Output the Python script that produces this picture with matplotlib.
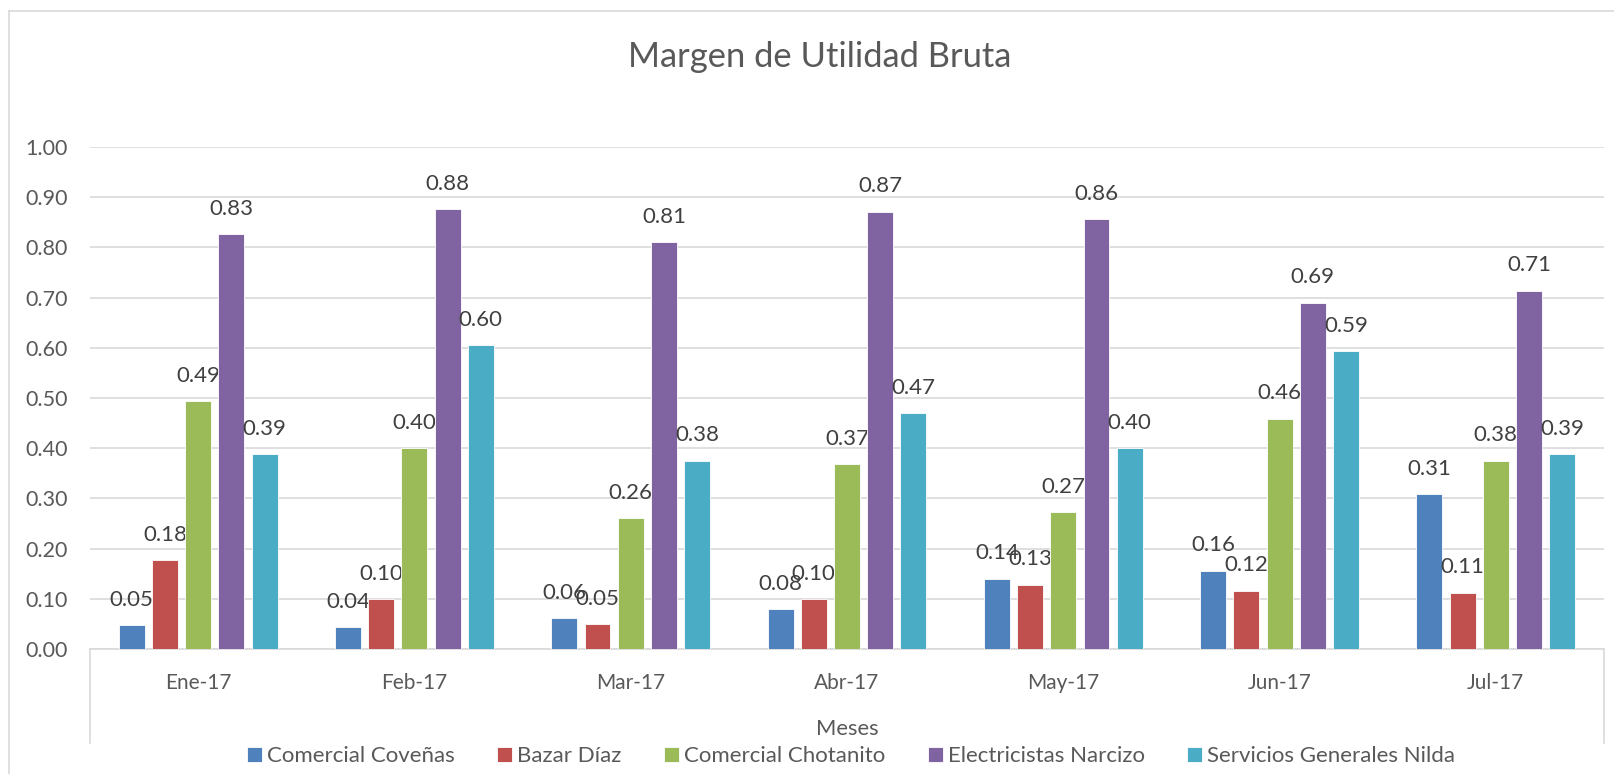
import numpy as np
import matplotlib
matplotlib.use("Agg")
import matplotlib.pyplot as plt
from matplotlib.lines import Line2D

plt.rcParams['font.family'] = ['Lato', 'DejaVu Sans']

meses = ['Ene-17', 'Feb-17', 'Mar-17', 'Abr-17', 'May-17', 'Jun-17', 'Jul-17']
coveñas = [0.047, 0.043, 0.062, 0.080, 0.140, 0.156, 0.308]
bazar = [0.177, 0.099, 0.050, 0.099, 0.128, 0.116, 0.112]
chotanito = [0.494, 0.400, 0.261, 0.368, 0.272, 0.459, 0.375]
narcizo = [0.826, 0.876, 0.811, 0.871, 0.857, 0.690, 0.714]
nilda = [0.388, 0.605, 0.375, 0.470, 0.400, 0.594, 0.388]

series = ['Comercial Coveñas', 'Bazar Díaz', 'Comercial Chotanito',
          'Electricistas Narcizo', 'Servicios Generales Nilda']
colores = ['#4F81BD', '#C0504D', '#9BBB59', '#8064A2', '#4BACC6']

W, H = 1615, 774
fig = plt.figure(figsize=(W / 100, H / 100), dpi=100)
left, right, bottom, top = 90 / W, 1604 / W, 1 - 649 / H, 1 - 147 / H
ax = fig.add_axes([left, bottom, right - left, top - bottom])

x = np.arange(len(meses))
paso = 0.1535
ancho = 0.12
for j, (vals, nombre, c) in enumerate(zip([coveñas, bazar, chotanito, narcizo, nilda], series, colores)):
    b = ax.bar(x + (j - 2) * paso, vals, ancho, color=c, label=nombre,
               edgecolor='white', linewidth=0.6, zorder=3)
    ax.bar_label(b, fmt='%.2f', padding=11, fontsize=16, color='#404040')

ax.set_xlim(-0.5, len(meses) - 0.5)
ax.set_ylim(0, 1.0)
ax.set_yticks(np.arange(0, 1.01, 0.1))
ax.set_yticklabels([f'{v:.2f}' for v in np.arange(0, 1.01, 0.1)])
ax.set_xticks(x)
ax.set_xticklabels(meses)
ax.tick_params(axis='both', length=0, labelcolor='#595959')
ax.tick_params(axis='y', pad=16, labelsize=15.5)
ax.tick_params(axis='x', pad=17, labelsize=15)
ax.grid(axis='y', color='#d9d9d9', linewidth=1.2, zorder=0)
for s in ['top', 'right', 'left']:
    ax.spines[s].set_visible(False)
ax.spines['bottom'].set_color('#d9d9d9')
ax.spines['bottom'].set_linewidth(1.2)

# lineas del eje de categorias hacia abajo
y_fin = 1 - 743 / H
for xx in (left, right):
    fig.add_artist(Line2D([xx, xx], [bottom, y_fin], color='#d9d9d9', linewidth=1.2))

# borde del grafico
fig.add_artist(Line2D([9 / W, 1.0], [1 - 11 / H, 1 - 11 / H], color='#d9d9d9', linewidth=1.2))
fig.add_artist(Line2D([9 / W, 9 / W], [0, 1 - 11 / H], color='#d9d9d9', linewidth=1.2))

fig.text(820 / W, 1 - 67 / H, 'Margen de Utilidad Bruta', ha='center', va='baseline',
         fontsize=24.8, color='#595959')
fig.text(847 / W, 1 - 729 / H, 'Meses', ha='center', va='center',
         fontsize=15.8, color='#595959')

leg = fig.legend(loc='center', bbox_to_anchor=(851 / W, 1 - 756 / H), ncol=5,
                 frameon=False, fontsize=16, handlelength=0.68, handleheight=0.68,
                 handletextpad=0.23, columnspacing=1.9, borderaxespad=0)
for t in leg.get_texts():
    t.set_color('#595959')

fig.savefig('out.png', dpi=100)
